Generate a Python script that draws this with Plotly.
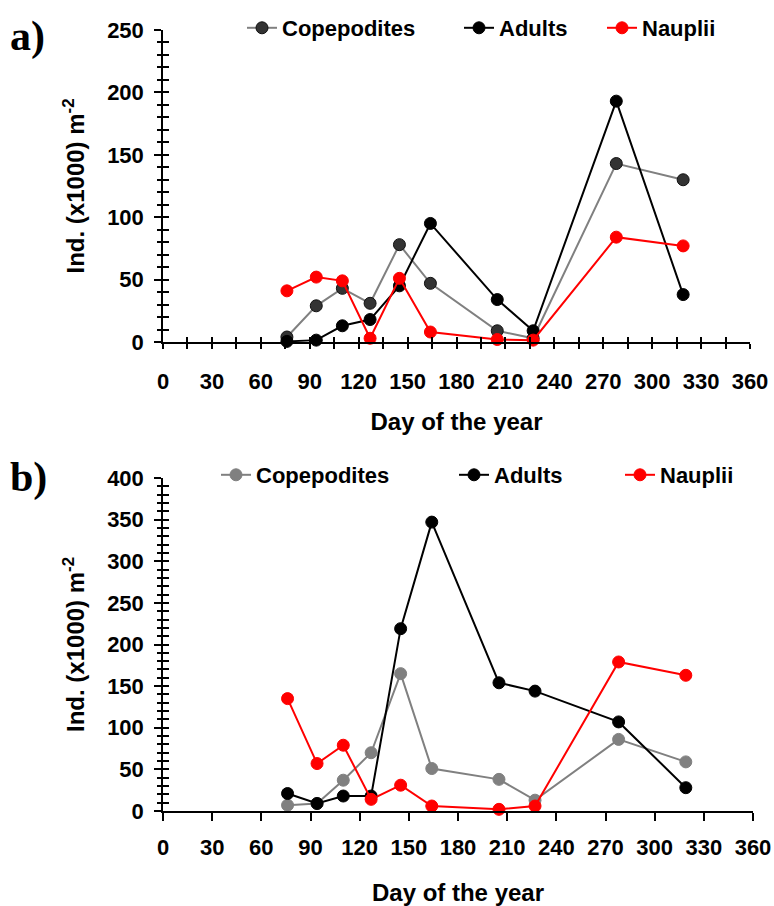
import plotly.graph_objects as go

# Sampling days (day of the year)
days = [76, 94, 110, 127, 145, 164, 205, 227, 278, 319]

# a) abundance, Ind. (x1000) m-2
cop_a = [4, 29, 43, 31, 78, 47, 9, 3, 143, 130]
adu_a = [0.5, 1.5, 13, 18, 45, 95, 34, 9, 193, 38]
nau_a = [41, 52, 49, 3, 51, 8, 2, 1.5, 84, 77]

# b) abundance, Ind. (x1000) m-2
cop_b = [7, 9, 37, 70, 165, 51, 38, 13, 86, 59]
adu_b = [21, 9, 18, 18, 219, 347, 154, 144, 107, 28]
nau_b = [135, 57, 79, 14, 31, 6, 2, 6, 179, 163]

x_ticks = list(range(0, 361, 30))

W, H = 774, 906
ML, MR, MT, MB = 163, 21, 30, 95
PW = W - ML - MR
PH = H - MT - MB

SANS = "Liberation Sans, Arial, sans-serif"
SERIF = "Liberation Serif, Times New Roman, serif"
TICKFONT = dict(family=SANS, size=22, color="black", weight="bold")
TITLEFONT = dict(family=SANS, size=24, color="black", weight="bold")
LEGFONT = dict(family=SANS, size=22, color="black", weight="bold")


def px_x(px):
    return (px - ML) / PW


def px_y(py):
    return (H - MB - py) / PH


fig = go.Figure()


def add_series(x, y, name, line_color, fill, outline, xa, ya, legend):
    fig.add_trace(go.Scatter(
        x=x, y=y, name=name, mode="lines+markers",
        line=dict(color=line_color, width=2),
        marker=dict(size=12, color=fill, line=dict(color=outline, width=1)),
        xaxis=xa, yaxis=ya, legend=legend, cliponaxis=False, showlegend=True,
    ))


# panel a
add_series(days, cop_a, "Copepodites", "#808080", "#333333", "#111111", "x", "y", "legend")
add_series(days, adu_a, "Adults", "black", "black", "black", "x", "y", "legend2")
add_series(days, nau_a, "Nauplii", "#ff0000", "#ff0000", "#ff0000", "x", "y", "legend3")
# panel b
add_series(days, cop_b, "Copepodites", "#808080", "#808080", "#808080", "x2", "y2", "legend4")
add_series(days, adu_b, "Adults", "black", "black", "black", "x2", "y2", "legend5")
add_series(days, nau_b, "Nauplii", "#ff0000", "#ff0000", "#ff0000", "x2", "y2", "legend6")

# empty traces that carry the overlay axes used for inward tick marks
fig.add_trace(go.Scatter(x=[], y=[], xaxis="x3", yaxis="y3", showlegend=False, hoverinfo="skip"))
fig.add_trace(go.Scatter(x=[], y=[], xaxis="x2", yaxis="y4", showlegend=False, hoverinfo="skip"))

dom_xa = [0, (750 - ML) / PW]
dom_xb = [0, 1]
dom_ya = [px_y(342), px_y(30)]
dom_yb = [px_y(811), px_y(478)]

common = dict(showgrid=False, zeroline=False, showline=True, linecolor="black",
              linewidth=1.5, tickcolor="black", tickwidth=1.5, tickfont=TICKFONT,
              automargin=False)

fig.update_layout(
    width=W, height=H, showlegend=True,
    margin=dict(l=ML, r=MR, t=MT, b=MB, autoexpand=False),
    paper_bgcolor="white", plot_bgcolor="white",
    xaxis=dict(domain=dom_xa, anchor="y", range=[0, 360], tickvals=x_ticks,
               ticks="outside", ticklen=5, ticklabelstandoff=14,
               minor=dict(dtick=15, tick0=0, ticks="outside", ticklen=5, tickwidth=1.5, tickcolor="black"),
               title=dict(text="Day of the year", font=TITLEFONT, standoff=20),
               **common),
    yaxis=dict(domain=dom_ya, anchor="x", range=[0, 250], dtick=50, tick0=0,
               ticks="outside", ticklen=7, ticklabelstandoff=6,
               minor=dict(dtick=10, tick0=0, ticks="outside", ticklen=4, tickwidth=1.5, tickcolor="black"),
               title=dict(text="Ind. (x1000) m<sup>-2</sup>", font=TITLEFONT, standoff=16),
               **common),
    xaxis3=dict(overlaying="x", anchor="y", range=[0, 360], dtick=15, tick0=0,
                ticks="inside", ticklen=5, tickwidth=1.5, tickcolor="black",
                showticklabels=False, showline=False, showgrid=False, zeroline=False),
    yaxis3=dict(overlaying="y", anchor="x", range=[0, 250], dtick=10, tick0=0,
                ticks="inside", ticklen=6, tickwidth=1.5, tickcolor="black",
                showticklabels=False, showline=False, showgrid=False, zeroline=False),
    xaxis2=dict(domain=dom_xb, anchor="y2", range=[0, 360], tickvals=x_ticks,
                ticks="outside", ticklen=8, ticklabelstandoff=8,
                title=dict(text="Day of the year", font=TITLEFONT, standoff=26),
                **common),
    yaxis2=dict(domain=dom_yb, anchor="x2", range=[0, 400], dtick=50, tick0=0,
                ticks="outside", ticklen=7, ticklabelstandoff=6,
                minor=dict(dtick=10, tick0=0, ticks="outside", ticklen=4, tickwidth=1.5, tickcolor="black"),
                title=dict(text="Ind. (x1000) m<sup>-2</sup>", font=TITLEFONT, standoff=16),
                **common),
    yaxis4=dict(overlaying="y2", anchor="x2", range=[0, 400], dtick=10, tick0=0,
                ticks="inside", ticklen=6, tickwidth=1.5, tickcolor="black",
                showticklabels=False, showline=False, showgrid=False, zeroline=False),
)

# one legend per series, laid out in a row above each panel
leg_pos = {
    "legend": (242, 28), "legend2": (459, 28), "legend3": (602, 28),
    "legend4": (216, 475), "legend5": (454, 475), "legend6": (620, 475),
}
for key, (lx, ly) in leg_pos.items():
    fig.update_layout({key: dict(x=px_x(lx), y=px_y(ly), xanchor="left", yanchor="middle",
                                 orientation="h", font=LEGFONT, bgcolor="rgba(0,0,0,0)",
                                 borderwidth=0, itemwidth=30, visible=True)})

# panel letters
for letter, py in (("a)", 37), ("b)", 478)):
    fig.add_annotation(text=letter, xref="paper", yref="paper",
                       x=px_x(8), y=px_y(py), xanchor="left", yanchor="middle",
                       showarrow=False,
                       font=dict(family=SERIF, size=42, color="black", weight="bold"))

fig.write_html("out.html")
